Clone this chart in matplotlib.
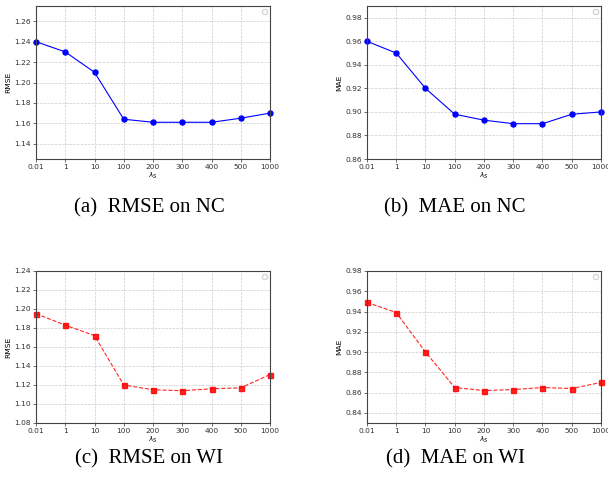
import numpy as np
import matplotlib
matplotlib.use("Agg")
import matplotlib.pyplot as plt
import logging

logging.getLogger("matplotlib.legend").setLevel(logging.ERROR)

lambdas = ['0.01', '1', '10', '100', '200', '300', '400', '500', '1000']

rmse_nc = [1.240, 1.230, 1.210, 1.164, 1.161, 1.161, 1.161, 1.165, 1.170]
mae_nc = [0.960, 0.950, 0.920, 0.898, 0.893, 0.890, 0.890, 0.898, 0.900]
rmse_wi = [1.195, 1.183, 1.172, 1.120, 1.115, 1.114, 1.116, 1.117, 1.131]
mae_wi = [0.949, 0.939, 0.900, 0.865, 0.862, 0.863, 0.865, 0.864, 0.870]

captions = ['(a)  RMSE on NC', '(b)  MAE on NC', '(c)  RMSE on WI', '(d)  MAE on WI']

W, H = 608, 487
fig = plt.figure(figsize=(W / 100, H / 100), dpi=100)


def box(left, top, right, bottom):
    return [left / W, 1 - bottom / H, (right - left) / W, (bottom - top) / H]


panels = [
    (box(36, 6, 270, 159), rmse_nc, 'RMSE', (1.125, 1.275), np.arange(1.14, 1.27, 0.02), 'b', 'o', '-'),
    (box(367, 6, 601, 159), mae_nc, 'MAE', (0.86, 0.99), np.arange(0.86, 0.99, 0.02), 'b', 'o', '-'),
    (box(36, 271, 270, 423), rmse_wi, 'RMSE', (1.08, 1.24), np.arange(1.08, 1.25, 0.02), 'r', 's', '--'),
    (box(367, 271, 601, 423), mae_wi, 'MAE', (0.83, 0.98), np.arange(0.84, 0.99, 0.02), 'r', 's', '--'),
]

x = np.arange(len(lambdas))
for pos, vals, ylab, ylim, yt, col, mk, ls in panels:
    ax = fig.add_axes(pos)
    ax.plot(x, vals, color=col, marker=mk, linestyle=ls, linewidth=0.8,
            markersize=3.6, alpha=0.85 if col == 'r' else 1.0, clip_on=False)
    ax.set_xlim(0, len(lambdas) - 1)
    ax.set_ylim(*ylim)
    ax.set_xticks(x)
    ax.set_xticklabels(lambdas)
    ax.set_yticks(yt)
    ax.set_yticklabels(['%.2f' % v for v in yt])
    ax.tick_params(labelsize=5.4, length=2, width=0.5, pad=1.5, colors='#333333')
    ax.set_xlabel(r'$\lambda_S$', fontsize=5.4, labelpad=1)
    ax.set_ylabel(ylab, fontsize=5.4, labelpad=2)
    ax.grid(True, linestyle='--', linewidth=0.5, color='#cccccc')
    for s in ax.spines.values():
        s.set_linewidth(0.8)
        s.set_color('#444444')
    ax.legend(loc='upper right', frameon=True, fontsize=5, borderpad=0.3)

cap_pos = [(149, 208), (455, 208), (149, 459), (455, 459)]
for (cx, cy), txt in zip(cap_pos, captions):
    fig.text(cx / W, 1 - cy / H, txt, ha='center', va='center',
             fontsize=15, family='Liberation Serif')

fig.savefig('out.png', dpi=100)
